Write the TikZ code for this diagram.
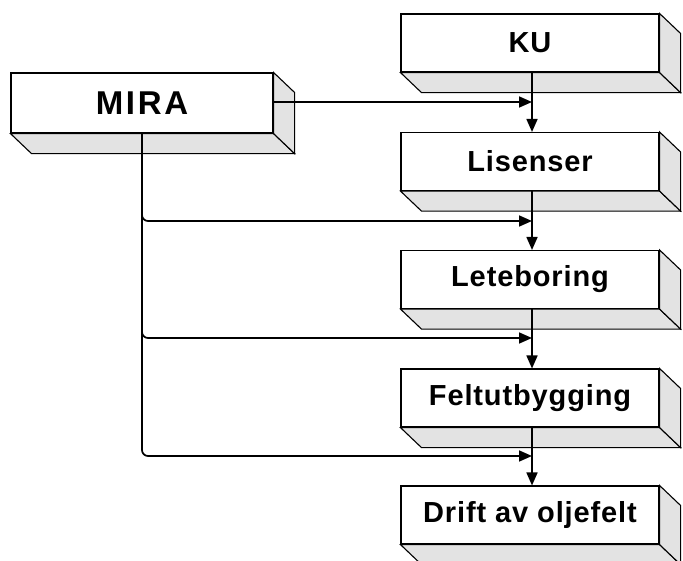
\documentclass[tikz,border=0pt]{standalone}
\usepackage{fontspec}
\setmainfont{Liberation Sans}[LetterSpace=3]
\newfontfamily\mirafont{Liberation Sans}[LetterSpace=8]
\usetikzlibrary{calc,arrows.meta,backgrounds}
\tikzset{
  front/.style={draw, line width=1.1pt, fill=white, minimum width=258pt, minimum height=58pt,
    inner sep=0pt, font=\fontsize{29}{31}\selectfont\bfseries},
  face/.style={draw, line width=1.1pt, fill=gray!22},
  conn/.style={line width=1.7pt},
  arr/.style={line width=1.7pt, -{Triangle[length=13pt,width=11pt]}},
}
\newcommand{\extrude}[1]{%
  \draw[face] (#1.south west) -- (#1.south east) -- ($(#1.south east)+(21,20)$) -- ($(#1.south west)+(21,20)$) -- cycle;
  \draw[face] (#1.north east) -- ($(#1.north east)+(21,20)$) -- ($(#1.south east)+(21,20)$) -- (#1.south east) -- cycle;
}
\begin{document}
\begin{tikzpicture}[x=1pt,y=-1pt]
\useasboundingbox (0,0) rectangle (683,560);
% MIRA
\node[front, minimum width=262pt, minimum height=60pt, font=\fontsize{33}{35}\selectfont\bfseries\mirafont] (mira) at (142,103) {MIRA};
% chain boxes
\node[front] (ku)  at (530,43)    {KU};
\node[front] (lis) at (530,161.5) {Lisenser};
\node[front] (let) at (530,279.5) {Leteboring};
\node[front] (fel) at (530,398)   {Feltutbygging};
\node[front] (dri) at (530,515)   {Drift av oljefelt};
\begin{scope}[on background layer]
\extrude{mira}\extrude{ku}\extrude{lis}\extrude{let}\extrude{fel}\extrude{dri}
\end{scope}
% coordinates
\coordinate (mr) at ($(mira.east)+(0,-1)$);
\coordinate (j1) at (532,102);
\coordinate (j2) at (532,221);
\coordinate (j3) at (532,338);
\coordinate (j4) at (532,456);
% vertical chain arrows
\draw[arr] (ku.south -| j1) -- (lis.north -| j1);
\draw[arr] (lis.south -| j1) -- (let.north -| j1);
\draw[arr] (let.south -| j1) -- (fel.north -| j1);
\draw[arr] (fel.south -| j1) -- (dri.north -| j1);
% MIRA arrows
\draw[arr] (mr) -- (j1);
\draw[conn] (mira.south) -- (142,440);
\draw[arr, rounded corners=6pt] (142,210) |- (j2);
\draw[arr, rounded corners=6pt] (142,330) |- (j3);
\draw[arr, rounded corners=6pt] (142,440) |- (j4);
\end{tikzpicture}
\end{document}
